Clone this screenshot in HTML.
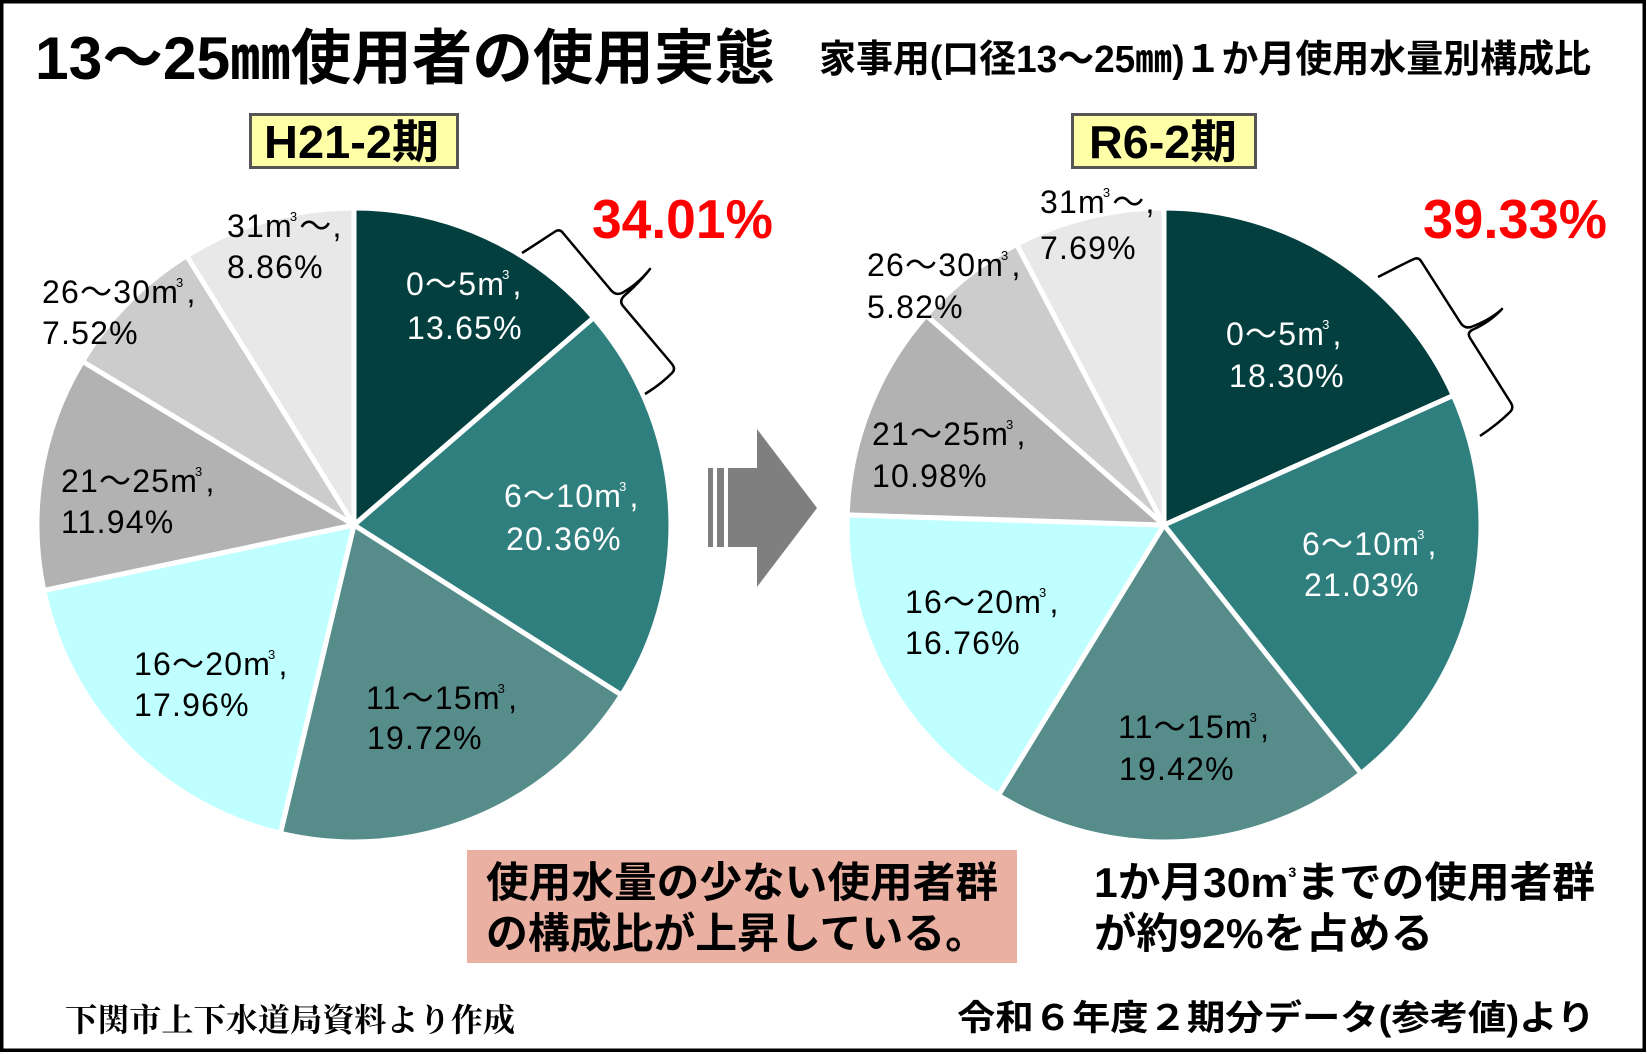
<!DOCTYPE html>
<html>
<head>
<meta charset="utf-8">
<style>
html,body{margin:0;padding:0;background:#fff;}
svg{display:block;}
.lbl{font-family:"Liberation Sans","Noto Sans CJK JP",sans-serif;font-size:32px;letter-spacing:1.2px;}
.w{fill:#fff;}
.b{fill:#000;}
</style>
</head>
<body>
<svg width="1647" height="1054" viewBox="0 0 1647 1054" xmlns="http://www.w3.org/2000/svg">
<rect x="0" y="0" width="1647" height="1054" fill="#fff"/>
<rect x="1.75" y="1.75" width="1642.5" height="1048.5" fill="none" stroke="#000" stroke-width="3.5"/>

<!-- Title -->
<text x="35" y="79" font-family="'Liberation Sans','Noto Sans CJK JP',sans-serif" font-weight="bold" font-size="60" textLength="740" lengthAdjust="spacingAndGlyphs">13〜25㎜使用者の使用実態</text>
<text x="819" y="72" font-family="'Liberation Sans','Noto Sans CJK JP',sans-serif" font-weight="bold" font-size="38" textLength="772" lengthAdjust="spacingAndGlyphs">家事用(口径13〜25㎜)１か月使用水量別構成比</text>

<!-- Period boxes -->
<rect x="250.5" y="114.5" width="207" height="53" fill="#FFFFA8" stroke="#555" stroke-width="3"/>
<text x="264" y="158" font-family="'Liberation Sans','Noto Sans CJK JP',sans-serif" font-weight="bold" font-size="46" textLength="175" lengthAdjust="spacingAndGlyphs">H21-2期</text>
<rect x="1072.5" y="114.5" width="183" height="53" fill="#FFFFA8" stroke="#555" stroke-width="3"/>
<text x="1089" y="158" font-family="'Liberation Sans','Noto Sans CJK JP',sans-serif" font-weight="bold" font-size="46" textLength="148" lengthAdjust="spacingAndGlyphs">R6-2期</text>

<!-- Left pie -->
<g stroke="#fff" stroke-width="5" stroke-linejoin="round">
<path d="M354,525 L354,208 A317,317 0 0 1 593.7,317.6 Z" fill="#033F3F"/>
<path d="M354,525 L593.7,317.6 A317,317 0 0 1 621.5,695.0 Z" fill="#2F7F7E"/>
<path d="M354,525 L621.5,695.0 A317,317 0 0 1 280.4,833.3 Z" fill="#568D8A"/>
<path d="M354,525 L280.4,833.3 A317,317 0 0 1 43.8,590.5 Z" fill="#BFFFFF"/>
<path d="M354,525 L43.8,590.5 A317,317 0 0 1 82.5,361.4 Z" fill="#B2B2B2"/>
<path d="M354,525 L82.5,361.4 A317,317 0 0 1 186.7,255.8 Z" fill="#CCCCCC"/>
<path d="M354,525 L186.7,255.8 A317,317 0 0 1 354,208 Z" fill="#E8E8E8"/>
</g>

<!-- Right pie -->
<g stroke="#fff" stroke-width="5" stroke-linejoin="round">
<path d="M1164,525 L1164,208 A317,317 0 0 1 1453.3,395.5 Z" fill="#033F3F"/>
<path d="M1164,525 L1453.3,395.5 A317,317 0 0 1 1361.0,773.4 Z" fill="#2F7F7E"/>
<path d="M1164,525 L1361.0,773.4 A317,317 0 0 1 998.4,795.3 Z" fill="#568D8A"/>
<path d="M1164,525 L998.4,795.3 A317,317 0 0 1 847.2,514.9 Z" fill="#BFFFFF"/>
<path d="M1164,525 L847.2,514.9 A317,317 0 0 1 926.2,315.4 Z" fill="#B2B2B2"/>
<path d="M1164,525 L926.2,315.4 A317,317 0 0 1 1016.7,244.3 Z" fill="#CCCCCC"/>
<path d="M1164,525 L1016.7,244.3 A317,317 0 0 1 1164,208 Z" fill="#E8E8E8"/>
</g>

<!-- Left labels -->
<g class="lbl">
<text class="w" x="406" y="295">0〜5m<tspan font-size="13" dy="-16" dx="-3">3</tspan><tspan dy="16" dx="2">,</tspan></text>
<text class="w" x="407" y="339">13.65%</text>
<text class="w" x="504" y="507">6〜10m<tspan font-size="13" dy="-16" dx="-3">3</tspan><tspan dy="16" dx="2">,</tspan></text>
<text class="w" x="506" y="550">20.36%</text>
<text class="b" x="366" y="709">11〜15m<tspan font-size="13" dy="-16" dx="-3">3</tspan><tspan dy="16" dx="2">,</tspan></text>
<text class="b" x="367" y="749">19.72%</text>
<text class="b" x="134" y="675">16〜20m<tspan font-size="13" dy="-16" dx="-3">3</tspan><tspan dy="16" dx="2">,</tspan></text>
<text class="b" x="134" y="716">17.96%</text>
<text class="b" x="61" y="492">21〜25m<tspan font-size="13" dy="-16" dx="-3">3</tspan><tspan dy="16" dx="2">,</tspan></text>
<text class="b" x="61" y="533">11.94%</text>
<text class="b" x="42" y="303">26〜30m<tspan font-size="13" dy="-16" dx="-3">3</tspan><tspan dy="16" dx="2">,</tspan></text>
<text class="b" x="42" y="344">7.52%</text>
<text class="b" x="227" y="237">31m<tspan font-size="13" dy="-16" dx="-3">3</tspan><tspan dy="16" dx="1">〜,</tspan></text>
<text class="b" x="227" y="278">8.86%</text>
</g>

<!-- Right labels -->
<g class="lbl">
<text class="w" x="1226" y="345">0〜5m<tspan font-size="13" dy="-16" dx="-3">3</tspan><tspan dy="16" dx="2">,</tspan></text>
<text class="w" x="1229" y="387">18.30%</text>
<text class="w" x="1302" y="555">6〜10m<tspan font-size="13" dy="-16" dx="-3">3</tspan><tspan dy="16" dx="2">,</tspan></text>
<text class="w" x="1304" y="596">21.03%</text>
<text class="b" x="1118" y="738">11〜15m<tspan font-size="13" dy="-16" dx="-3">3</tspan><tspan dy="16" dx="2">,</tspan></text>
<text class="b" x="1119" y="780">19.42%</text>
<text class="b" x="905" y="613">16〜20m<tspan font-size="13" dy="-16" dx="-3">3</tspan><tspan dy="16" dx="2">,</tspan></text>
<text class="b" x="905" y="654">16.76%</text>
<text class="b" x="872" y="445">21〜25m<tspan font-size="13" dy="-16" dx="-3">3</tspan><tspan dy="16" dx="2">,</tspan></text>
<text class="b" x="872" y="487">10.98%</text>
<text class="b" x="867" y="276">26〜30m<tspan font-size="13" dy="-16" dx="-3">3</tspan><tspan dy="16" dx="2">,</tspan></text>
<text class="b" x="867" y="318">5.82%</text>
<text class="b" x="1040" y="213">31m<tspan font-size="13" dy="-16" dx="-3">3</tspan><tspan dy="16" dx="1">〜,</tspan></text>
<text class="b" x="1040" y="259">7.69%</text>
</g>

<!-- Red percentages -->
<text x="592" y="238" fill="#FF0000" font-family="'Liberation Sans',sans-serif" font-weight="bold" font-size="55" textLength="181" lengthAdjust="spacingAndGlyphs">34.01%</text>
<text x="1423" y="238" fill="#FF0000" font-family="'Liberation Sans',sans-serif" font-weight="bold" font-size="55" textLength="184" lengthAdjust="spacingAndGlyphs">39.33%</text>

<!-- Brackets -->
<path d="M522,253 C535,245 548,236 556,231 Q560,229 563,233 L610,289 Q615,296 622,293 Q638,284 650,269 Q640,282 624,296 Q619,301 623,306 L672,364 Q676,369 672,373 C664,381 655,388 645,394" fill="none" stroke="#000" stroke-width="2.5" stroke-linejoin="round"/>
<path d="M1378,277 C1392,270 1405,263 1414,259 Q1418,257 1421,261 L1460,322 Q1464,329 1471,327 Q1490,320 1502,309 Q1490,322 1472,330 Q1467,333 1470,338 L1511,403 Q1514,408 1510,412 C1502,420 1492,428 1480,436" fill="none" stroke="#000" stroke-width="2.5" stroke-linejoin="round"/>

<!-- Arrow -->
<g fill="#7F7F7F">
<rect x="708" y="468" width="5" height="79"/>
<rect x="717" y="468" width="7" height="79"/>
<rect x="728" y="468" width="30" height="79"/>
<polygon points="757,429 817,508 757,587"/>
</g>

<!-- Pink box -->
<rect x="467" y="850" width="550" height="113" fill="#EAB1A3"/>
<text x="486" y="897" font-family="'Liberation Sans','Noto Sans CJK JP',sans-serif" font-weight="bold" font-size="42" textLength="512" lengthAdjust="spacingAndGlyphs">使用水量の少ない使用者群</text>
<text x="486" y="948" font-family="'Liberation Sans','Noto Sans CJK JP',sans-serif" font-weight="bold" font-size="42" textLength="501" lengthAdjust="spacingAndGlyphs">の構成比が上昇している。</text>

<!-- Right note -->
<text x="1094" y="897" font-family="'Liberation Sans','Noto Sans CJK JP',sans-serif" font-weight="bold" font-size="42" textLength="501" lengthAdjust="spacingAndGlyphs">1か月30m<tspan font-size="14" dy="-20">3</tspan><tspan dy="20">までの使用者群</tspan></text>
<text x="1094" y="948" font-family="'Liberation Sans','Noto Sans CJK JP',sans-serif" font-weight="bold" font-size="42" textLength="339" lengthAdjust="spacingAndGlyphs">が約92%を占める</text>

<!-- Footers -->
<text x="65" y="1031" font-family="'Liberation Serif','Noto Serif CJK SC',serif" font-weight="bold" font-size="32" textLength="450" lengthAdjust="spacingAndGlyphs">下関市上下水道局資料より作成</text>
<text x="957" y="1030" font-family="'Liberation Sans','Noto Sans CJK JP',sans-serif" font-weight="bold" font-size="35" textLength="638" lengthAdjust="spacingAndGlyphs">令和６年度２期分データ(参考値)より</text>
</svg>
</body>
</html>
